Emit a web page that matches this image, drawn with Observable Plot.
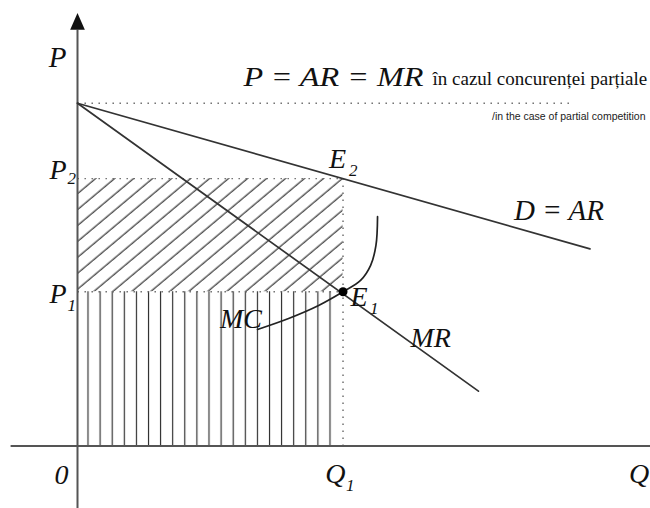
<!DOCTYPE html>
<html><head><meta charset="utf-8">
<script src="https://cdn.jsdelivr.net/npm/d3@7"></script>
<script src="https://cdn.jsdelivr.net/npm/@observablehq/plot@0.6"></script>
<style>
html,body{margin:0;padding:0;background:#fff;}
#chart{width:650px;height:508px;}
#chart svg text{font-family:"Liberation Serif","Times New Roman","DejaVu Serif",serif;}
#chart svg text.sans{font-family:"Liberation Sans",Arial,sans-serif;}
</style>
</head><body><div id="chart"></div>
<script>
// ---- data (schematic units: Q horizontally, P vertically) ----
const priceIntercept = 100;          // P where D=AR and MR start
const P2 = 78;                       // price level at E2
const P1 = 45;                       // price level at E1
const Q1 = 100;                      // quantity at equilibrium
const demandLine = [[0, 100], [193, 57.5]];           // D = AR
const mrLine = [[0, 100], [151, 16]];                 // MR
const mcCurve = [[67.8, 34], [79.5, 37.2], [90.8, 41], [100, 45],
                 [106.6, 48.3], [110.4, 52.7], [112.4, 58.5], [113, 66.9]]; // MC
const xAxisExtent = [-25.2, 216];
const yAxisExtent = [-18.3, 121.4];
const competitionLineEnd = 187;      // end of dotted P = AR = MR line
const xDomain = [-29.0, 215.8];
const yDomain = [-18.23, 129.96];

const pt = ([q, p]) => ({q, p});

function label(t, q, p, o = {}) {
  return Plot.text([{q, p, t}], {
    x: "q", y: "p", text: "t", lineAnchor: "bottom",
    fontStyle: "italic", fontSize: 28, fill: "#111",
    textAnchor: "start", ...o
  });
}

const arrowHead = {
  draw(ctx, size) {
    const r = Math.sqrt(size / Math.PI);
    ctx.moveTo(0, -2.1 * r);
    ctx.lineTo(0.92 * r, 0);
    ctx.lineTo(-0.92 * r, 0);
    ctx.closePath();
  }
};

const dotted = {stroke: "#666", strokeWidth: 1.4, strokeDasharray: "1.4,5.6"};
const seg = {x1: "x1", x2: "x2", y1: "y1", y2: "y2"};

const plot = Plot.plot({
  width: 650, height: 508,
  marginTop: 0, marginBottom: 0, marginLeft: 0, marginRight: 0,
  x: {domain: xDomain, axis: null},
  y: {domain: yDomain, axis: null},
  style: {background: "#fff", overflow: "visible"},
  marks: [
    // hatched areas
    Plot.rect([{x1: 0, x2: Q1, y1: P1, y2: P2}], {...seg, fill: "url(#hatchDiag)"}),
    Plot.rect([{x1: 0, x2: Q1, y1: 0, y2: P1}], {...seg, fill: "url(#hatchVert)", insetRight: 6, insetLeft: 4}),
    // dotted guide lines
    Plot.link([{x1: 0, x2: competitionLineEnd, y1: priceIntercept, y2: priceIntercept}], {...seg, ...dotted}),
    Plot.link([{x1: 0, x2: Q1, y1: P2, y2: P2}, {x1: 0, x2: Q1, y1: P1, y2: P1}], {...seg, ...dotted}),
    Plot.link([{x1: Q1, x2: Q1, y1: 0, y2: P2}], {...seg, ...dotted}),
    // axes
    Plot.link([{x1: xAxisExtent[0], x2: xAxisExtent[1], y1: 0, y2: 0}], {...seg, stroke: "#555", strokeWidth: 2}),
    Plot.link([{x1: 0, x2: 0, y1: yAxisExtent[0], y2: yAxisExtent[1]}], {...seg, stroke: "#555", strokeWidth: 2}),
    Plot.dot([{q: 0, p: yAxisExtent[1]}], {x: "q", y: "p", symbol: arrowHead, r: 8, fill: "#111", stroke: "none"}),
    // curves
    Plot.line(demandLine.map(pt), {x: "q", y: "p", stroke: "#333", strokeWidth: 1.7}),
    Plot.line(mrLine.map(pt), {x: "q", y: "p", stroke: "#333", strokeWidth: 1.7}),
    Plot.line(mcCurve.map(pt), {x: "q", y: "p", stroke: "#222", strokeWidth: 1.7, curve: "catmull-rom"}),
    Plot.dot([{q: Q1, p: P1}], {x: "q", y: "p", r: 4.5, fill: "#000", stroke: "none"}),
    // labels
    label("P", 0, yAxisExtent[1] + 4.8, {textAnchor: "end", dx: -11, dy: 53.4, fontSize: 29}),
    label("P", 0, P2, {textAnchor: "end", dx: -11, dy: 0}),
    label("2", 0, P2, {dx: -10, dy: 5, fontSize: 17}),
    label("P", 0, P1, {textAnchor: "end", dx: -11, dy: 11}),
    label("1", 0, P1, {dx: -10, dy: 19, fontSize: 17}),
    label("0", 0, 0, {textAnchor: "end", dx: -9, dy: 37.5}),
    label("Q", Q1, 0, {textAnchor: "end", dx: 2.5, dy: 36.5}),
    label("1", Q1, 0, {dx: 3, dy: 44.5, fontSize: 17}),
    label("Q", xAxisExtent[1], 0, {dx: -22, dy: 36.5}),
    label("E", Q1, P2, {dx: -14, dy: -11}),
    label("2", Q1, P2, {dx: 6, dy: -3, fontSize: 17}),
    label("E", Q1, P1, {dx: 7.5, dy: 14}),
    label("1", Q1, P1, {dx: 27, dy: 22, fontSize: 17}),
    label("MC", mcCurve[0][0], mcCurve[0][1], {textAnchor: "end", dx: 4.5, dy: -1}),
    label("MR", mrLine[1][0], mrLine[1][1], {dx: -68, dy: -43.7}),
    label("D = AR", demandLine[1][0], demandLine[1][1], {dx: -76, dy: -28.4, fontSize: 29}),
    label("P = AR = MR", 0, priceIntercept, {dx: 166, dy: -17.7, fontSize: 28}),
    label("în cazul concurenței parțiale", 0, priceIntercept, {dx: 355, dy: -18.7, fontSize: 19, fontStyle: "normal"}),
    label("/in the case of partial competition", 0, priceIntercept, {textAnchor: "end", dx: 568, dy: 16.3, fontSize: 10.5, fontStyle: "normal", fill: "#222"})
  ]
});

// hatch patterns
const defs = document.createElementNS("http://www.w3.org/2000/svg", "defs");
defs.innerHTML = `
<pattern id="hatchDiag" patternUnits="userSpaceOnUse" width="12.2" height="12.2" patternTransform="rotate(50)">
  <line x1="3" y1="-1" x2="3" y2="13.2" stroke="#2a2a2a" stroke-width="1.15"/>
</pattern>
<pattern id="hatchVert" patternUnits="userSpaceOnUse" width="12.1" height="20">
  <line x1="3.3" y1="-1" x2="3.3" y2="21" stroke="#2a2a2a" stroke-width="1.15"/>
</pattern>`;
plot.insertBefore(defs, plot.firstChild);

// fit width of the equation text, mark the sans text
plot.querySelectorAll("text").forEach(el => {
  if (el.textContent === "P = AR = MR") { el.setAttribute("textLength", 180); el.setAttribute("lengthAdjust", "spacingAndGlyphs"); }
  if (el.textContent.startsWith("/in")) el.classList.add("sans");
});

document.getElementById("chart").appendChild(plot);
</script>
</body></html>
